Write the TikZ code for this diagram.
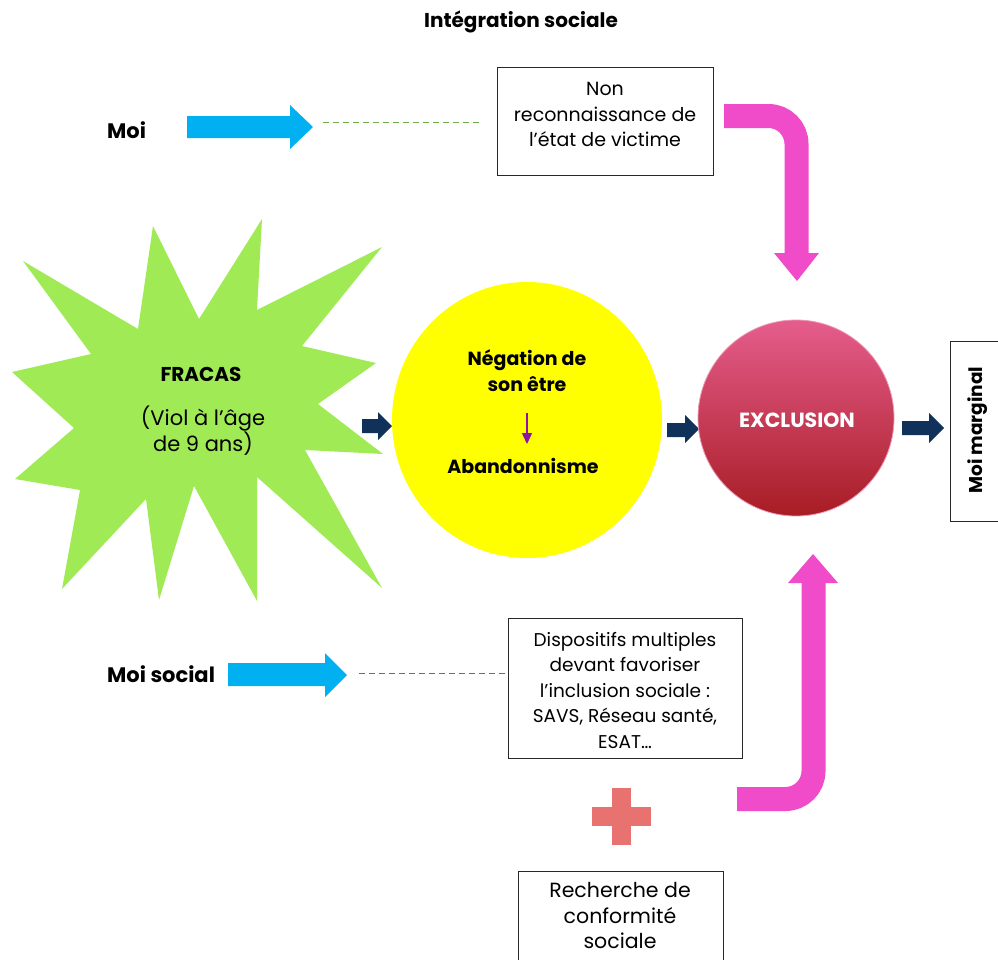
\documentclass[tikz,border=0pt]{standalone}
\usepackage{fontspec}
\setmainfont{Poppins}
\usetikzlibrary{arrows.meta,shapes.geometric}
\definecolor{starg}{RGB}{160,234,85}
\definecolor{skyb}{RGB}{0,176,240}
\definecolor{pinka}{RGB}{240,75,200}
\definecolor{navy}{RGB}{16,50,90}
\definecolor{dgreen}{RGB}{112,173,71}
\definecolor{dteal}{RGB}{40,140,120}
\definecolor{purp}{RGB}{140,20,160}
\definecolor{plusc}{RGB}{232,114,112}
\definecolor{exTop}{RGB}{229,93,140}
\definecolor{exBot}{RGB}{168,28,36}
\definecolor{exBorder}{RGB}{235,150,180}
\definecolor{boxline}{RGB}{40,40,40}
\definecolor{yell}{RGB}{255,255,0}
\newcommand\fsz[1]{\fontsize{#1}{25.5}\selectfont}
\begin{document}
\begin{tikzpicture}[x=1pt,y=-1pt,
  txt/.style={align=center, inner sep=0pt},
  btxt/.style={align=center, inner sep=0pt, font=\bfseries},
  boxn/.style={draw=boxline, line width=1pt, inner sep=0pt, fill=white},
  bluearrow/.style={fill=skyb},
  navyarrow/.style={fill=navy},
  bentarrow/.style={draw=pinka, line width=24pt, rounded corners=28pt},
  dashg/.style={dgreen, line width=1pt, dash pattern=on 6pt off 4pt},
  dasht/.style={dteal, line width=1pt, dash pattern=on 6pt off 4pt}]
\useasboundingbox (0,0) rectangle (998,959);
\clip (0,0) rectangle (998,959);

% title
\node[btxt, font=\fsz{20}\bfseries] (title) at (521,22) {Intégration sociale};

% Moi row
\node[btxt, font=\fsz{21}\bfseries, anchor=west] (moi) at (107,130) {Moi};
\fill[bluearrow] (187,116) -- (290,116) -- (290,105) -- (313,127) -- (290,149) -- (290,138) -- (187,138) -- cycle;
\coordinate (d1s) at (323,122);
\coordinate (d1e) at (481,122);
\draw[dashg] (d1s) -- (d1e);
\node[boxn, minimum width=216pt, minimum height=108pt] (b1) at (605,121) {};
\node[txt, font=\fsz{19}] (b1t) at (605,114.5) {Non\\reconnaissance de\\l’état de victime};

% bent arrow top
\draw[bentarrow] (724,116) -| (796.5,255);
\fill[pinka] (774,253) -- (819,253) -- (797,281) -- cycle;

% star
\fill[starg] (23,261) -- (138,329) -- (153,226) -- (199,319) -- (262,219) -- (257,310)
  -- (382,247) -- (302,346) -- (376,363) -- (318,404) -- (383,454) -- (305,450)
  -- (382,588) -- (257,477) -- (257,601) -- (194,486) -- (159,600) -- (146,499)
  -- (62,589) -- (80,490) -- (15,479) -- (74,428) -- (12,372) -- (91,354) -- cycle;
\node[btxt, font=\fsz{20}\bfseries] (fracas) at (201,374) {FRACAS};
\node[txt, font=\fsz{21}] (viol) at (203,430.5) {(Viol à l’âge\\de 9 ans)};

% arrow star -> yellow
\fill[navyarrow] (362,419) -- (378,419) -- (378,412) -- (392,426) -- (378,440) -- (378,433) -- (362,433) -- cycle;

% yellow circle
\node[ellipse, fill=yell, minimum width=270pt, minimum height=276pt, inner sep=0pt] (neg) at (527,420) {};
\node[btxt, font=\fsz{19}\bfseries] (negt) at (527,370.5) {Négation de\\son être};
\node[btxt, font=\fsz{19}\bfseries] (aband) at (523,466) {Abandonnisme};
\coordinate (pa1) at (527,413);
\coordinate (pa2) at (527,444);
\draw[purp, line width=1.5pt, -{Triangle[width=10pt,length=11pt]}] (pa1) -- (pa2);

% arrow yellow -> exclusion
\fill[navyarrow] (667,423) -- (685,423) -- (685,415) -- (699,429) -- (685,443) -- (685,437) -- (667,437) -- cycle;

% exclusion
\node[circle, minimum size=196pt, inner sep=0pt, top color=exTop, bottom color=exBot, draw=exBorder, line width=0.8pt] (excl) at (796,418) {};
\node[btxt, font=\fsz{20.5}\bfseries, text=white] (exclt) at (797,420) {EXCLUSION};

% arrow exclusion -> moi marginal
\fill[navyarrow] (902,421) -- (929,421) -- (929,413) -- (944,428) -- (929,443) -- (929,435) -- (902,435) -- cycle;
\node[boxn, minimum width=60pt, minimum height=180pt] (mm) at (980,431) {};
\node[btxt, font=\fsz{18.5}\bfseries, rotate=90] (mmt) at (978,430) {Moi marginal};

% Moi social row
\node[btxt, font=\fsz{21}\bfseries, anchor=west] (moisoc) at (107,674) {Moi social};
\fill[bluearrow] (228,663) -- (325,663) -- (325,653) -- (347,675) -- (325,697) -- (325,686) -- (228,686) -- cycle;
\node[boxn, minimum width=234pt, minimum height=140pt] (b2) at (625,688) {};
\node[txt, font=\fsz{18.5}] (b2t) at (625,690) {Dispositifs multiples\\devant favoriser\\l’inclusion sociale :\\SAVS, Réseau santé,\\ESAT…};
\coordinate (d2s) at (359,673);
\draw[dasht] (d2s) -- (b2.west |- d2s);

% bent arrow bottom
\draw[bentarrow] (737,799) -| (813.5,581);
\fill[pinka] (788,583) -- (838,583) -- (813,554) -- cycle;

% plus
\fill[plusc] (612,788) rectangle (631,845);
\fill[plusc] (592,807) rectangle (651,826);

% bottom box
\node[boxn, minimum width=205pt, minimum height=110pt] (b3) at (620.5,926) {};
\node[txt, font=\fsz{20.5}] (b3t) at (620,915.5) {Recherche de\\conformité\\sociale};
\end{tikzpicture}
\end{document}
